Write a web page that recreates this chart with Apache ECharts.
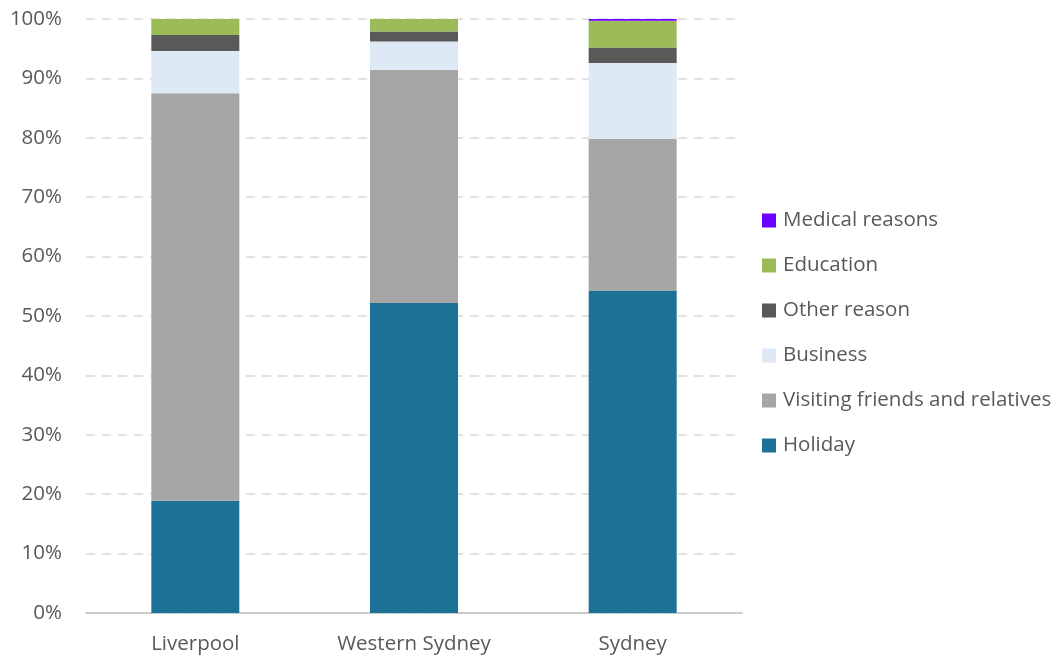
<!DOCTYPE html>
<html>
<head>
<meta charset="utf-8">
<script src="https://cdn.jsdelivr.net/npm/echarts@6/dist/echarts.min.js"></script>
<style>
  html, body { margin: 0; padding: 0; background: #fff; }
  #chart { width: 1061px; height: 661px; }
</style>
</head>
<body>
<div id="chart"></div>
<script>
// Purpose of visit, share of visitors by region (%)
const regions = ['Liverpool', 'Western Sydney', 'Sydney'];
const holiday  = [18.9, 52.2, 54.2];
const visiting = [68.6, 39.2, 25.6];
const business = [7.1, 4.8, 12.8];
const other    = [2.7, 1.7, 2.6];
const education = [2.7, 2.1, 4.5];
const medical  = [0.0, 0.0, 0.3];
const yTicks = [0, 10, 20, 30, 40, 50, 60, 70, 80, 90, 100];

const FONT = '"Open Sans", "Noto Sans", sans-serif';
const TEXT = '#595959';
const FS = 20.5;

const seriesDefs = [
  { name: 'Holiday', data: holiday, color: '#1b7196' },
  { name: 'Visiting friends and relatives', data: visiting, color: '#a6a6a6' },
  { name: 'Business', data: business, color: '#dde9f5' },
  { name: 'Other reason', data: other, color: '#595959' },
  { name: 'Education', data: education, color: '#9bbb59' },
  { name: 'Medical reasons', data: medical, color: '#6a00ff' }
];

const chart = echarts.init(document.getElementById('chart'), null, { renderer: 'canvas' });
chart.setOption({
  animation: false,
  backgroundColor: '#ffffff',
  grid: { left: 86, right: 319, top: 19, bottom: 48, containLabel: false },
  legend: {
    orient: 'vertical',
    left: 762,
    top: 210,
    padding: 0,
    itemWidth: 14,
    itemHeight: 14,
    itemGap: 24,
    icon: 'rect',
    data: seriesDefs.map(s => s.name).reverse(),
    textStyle: { fontFamily: FONT, fontSize: FS, color: TEXT, padding: [0, 0, 0, 2] }
  },
  xAxis: {
    type: 'category',
    data: regions,
    axisLine: { lineStyle: { color: '#bfbfbf', width: 1.5 } },
    axisTick: { show: false },
    axisLabel: { fontFamily: FONT, fontSize: FS, color: TEXT, margin: 21 }
  },
  yAxis: {
    type: 'value',
    min: yTicks[0],
    max: yTicks[yTicks.length - 1],
    interval: 10,
    axisLine: { show: false },
    axisTick: { show: false },
    axisLabel: { fontFamily: FONT, fontSize: FS, color: TEXT, margin: 24, formatter: v => v + '%' },
    splitLine: { lineStyle: { color: '#d9d9d9', width: 1.5, type: [9, 7] } }
  },
  series: seriesDefs.map(s => ({
    name: s.name,
    type: 'bar',
    stack: 'total',
    data: s.data,
    barWidth: 88,
    itemStyle: { color: s.color },
    emphasis: { disabled: true }
  }))
});
</script>
</body>
</html>
